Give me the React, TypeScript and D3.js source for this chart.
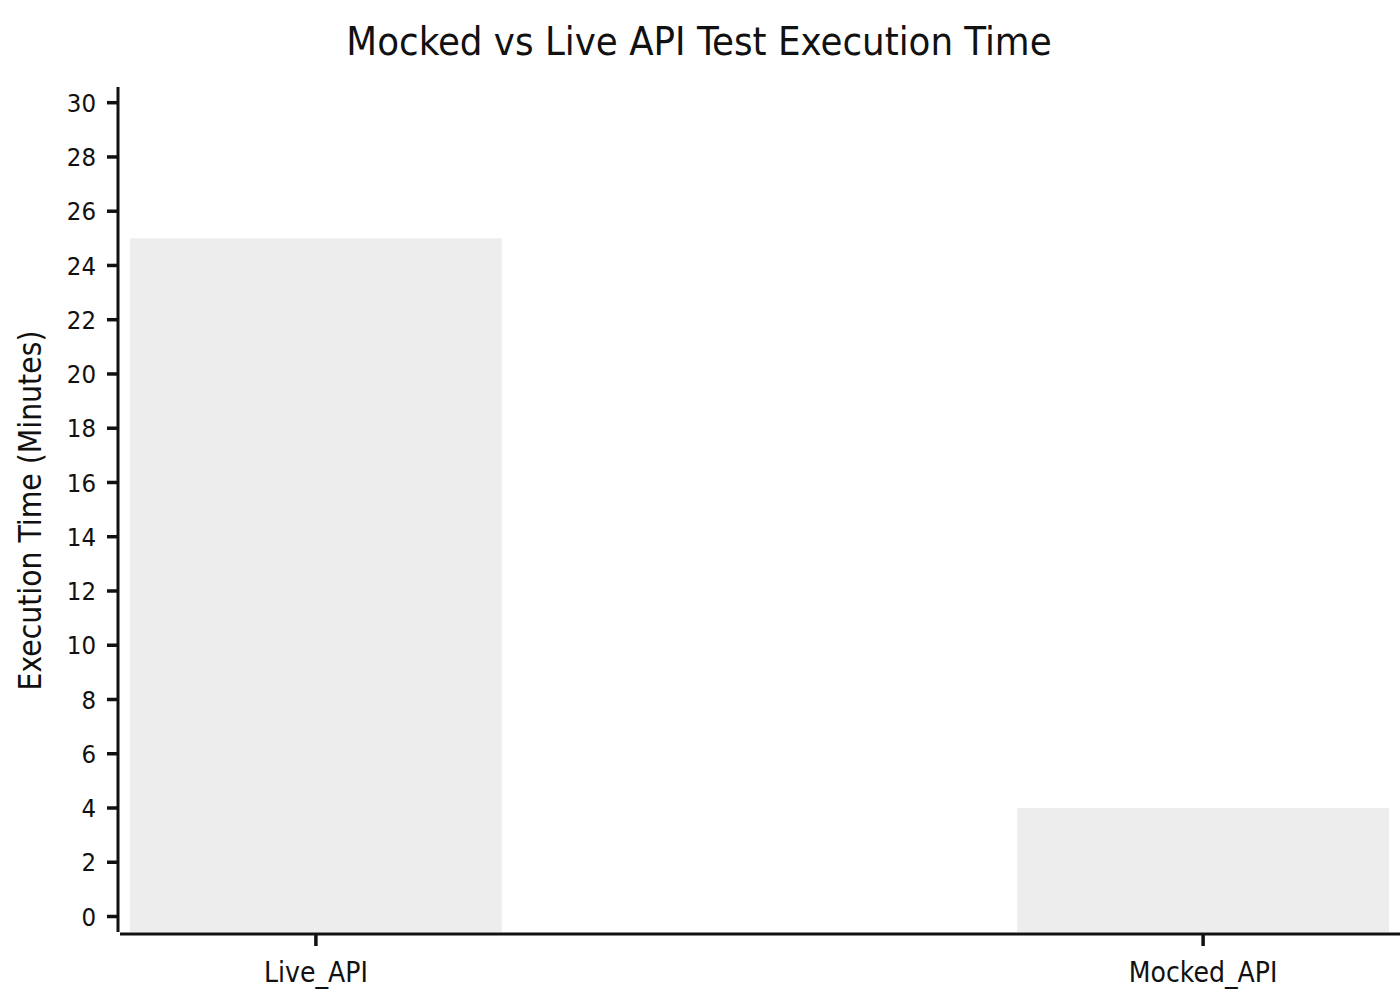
import React, { useEffect, useRef } from 'react';
import * as d3 from 'd3';

// chart data
const categories = ['Live_API', 'Mocked_API'];
const executionMinutes = [25, 4];
const yTicks = d3.range(0, 31, 2);

const WIDTH = 1400;
const HEIGHT = 1000;
const FONT = '"DejaVu Sans Condensed", "DejaVu Sans", sans-serif';

const App: React.FC = () => {
  const svgRef = useRef<SVGSVGElement>(null);

  useEffect(() => {
    if (!svgRef.current) return;
    document.body.style.margin = '0';

    const svg = d3.select(svgRef.current);
    svg.selectAll('*').remove();

    const left = 120;
    const right = 1399;
    const top = 87;
    const bottom = 932;

    // y scale: 0 sits at 916.5, 30 at 102.7
    const y = d3.scaleLinear().domain([0, 30]).range([916.5, 102.7]);
    const yMin = y.invert(bottom);

    const x = d3
      .scaleBand()
      .domain(categories)
      .range([left, right])
      .paddingInner(0.581)
      .paddingOuter(0.0113);

    // Bars
    svg
      .append('g')
      .selectAll('rect')
      .data(categories)
      .enter()
      .append('rect')
      .attr('x', (d) => x(d) || 0)
      .attr('width', x.bandwidth())
      .attr('y', (d, i) => y(executionMinutes[i]))
      .attr('height', (d, i) => y(yMin) - y(executionMinutes[i]))
      .attr('fill', '#ededed');

    // Y axis (offset spine)
    const yAxis = svg.append('g').attr('transform', 'translate(118,0)');
    yAxis
      .append('line')
      .attr('x1', 0)
      .attr('x2', 0)
      .attr('y1', top)
      .attr('y2', bottom)
      .attr('stroke', '#111')
      .attr('stroke-width', 3);
    const yt = yAxis
      .selectAll('.ytick')
      .data(yTicks)
      .enter()
      .append('g')
      .attr('class', 'ytick')
      .attr('transform', (d) => `translate(0,${y(d)})`);
    yt.append('line')
      .attr('x1', -11)
      .attr('x2', -1)
      .attr('stroke', '#111')
      .attr('stroke-width', 3.5);
    yt.append('text')
      .attr('x', -22)
      .attr('dy', '0.36em')
      .attr('text-anchor', 'end')
      .attr('font-family', FONT)
      .attr('font-size', 25.5)
      .attr('fill', '#111')
      .text((d) => d);

    // X axis (offset spine)
    const xAxis = svg.append('g').attr('transform', 'translate(0,934)');
    xAxis
      .append('line')
      .attr('x1', left)
      .attr('x2', WIDTH)
      .attr('stroke', '#111')
      .attr('stroke-width', 3);
    const xt = xAxis
      .selectAll('.xtick')
      .data(categories)
      .enter()
      .append('g')
      .attr('class', 'xtick')
      .attr('transform', (d) => `translate(${(x(d) || 0) + x.bandwidth() / 2},0)`);
    xt.append('line')
      .attr('y1', 1)
      .attr('y2', 12)
      .attr('stroke', '#111')
      .attr('stroke-width', 3.5);
    xt.append('text')
      .attr('y', 48)
      .attr('text-anchor', 'middle')
      .attr('font-family', FONT)
      .attr('font-size', 28)
      .attr('fill', '#111')
      .text((d) => d);

    // Axis label
    svg
      .append('text')
      .attr('transform', `translate(41,${(top + bottom) / 2 + 1}) rotate(-90)`)
      .attr('text-anchor', 'middle')
      .attr('font-family', FONT)
      .attr('font-size', 31.5)
      .attr('fill', '#111')
      .text('Execution Time (Minutes)');

    // Title
    svg
      .append('text')
      .attr('x', 699)
      .attr('y', 55)
      .attr('text-anchor', 'middle')
      .attr('font-family', FONT)
      .attr('font-size', 39.7)
      .attr('fill', '#111')
      .text('Mocked vs Live API Test Execution Time');
  }, []);

  return (
    <div>
      <svg ref={svgRef} width={WIDTH} height={HEIGHT} style={{ display: 'block', background: '#fff' }} />
    </div>
  );
};

export default App;
